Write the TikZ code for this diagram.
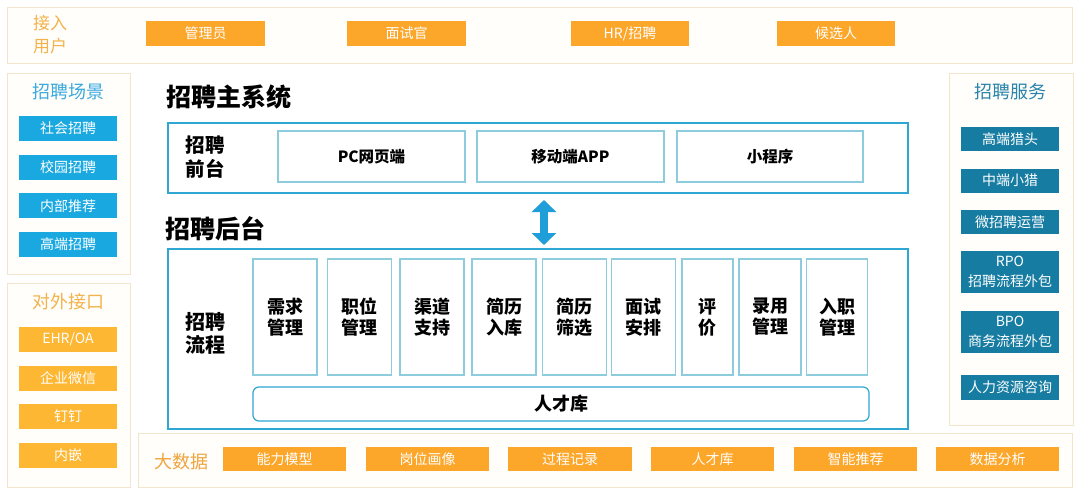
\documentclass[tikz,border=0pt]{standalone}
\usepackage{fontspec}
\setmainfont{Noto Sans CJK SC}
\usetikzlibrary{arrows.meta}
\definecolor{beigeb}{HTML}{F3E4CC}
\definecolor{beigef}{HTML}{FFFEFB}
\definecolor{orng}{HTML}{FCA62A}
\definecolor{yorng}{HTML}{FDB732}
\definecolor{otitle}{HTML}{F3B24B}
\definecolor{otitleb}{HTML}{EFA43C}
\definecolor{sky}{HTML}{19A8E0}
\definecolor{skyt}{HTML}{3BAADE}
\definecolor{tealb}{HTML}{167CA2}
\definecolor{tealt}{HTML}{2A84AA}
\definecolor{framec}{HTML}{2FA7D3}
\definecolor{innerc}{HTML}{8DCCDD}
\definecolor{arrowc}{HTML}{1E9FDA}
\tikzset{
  panel/.style={draw=beigeb, fill=beigef, line width=1.2pt, anchor=north west, inner sep=0},
  btn/.style={inner sep=0, text=white, font=\fontsize{14}{20}\selectfont, align=center, minimum height=25pt},
  obtn/.style={btn, fill=orng},
  ybtn/.style={btn, fill=yorng, minimum width=98pt},
  sbtn/.style={btn, fill=sky, minimum width=98pt},
  tbtn/.style={btn, fill=tealb, minimum width=98pt, minimum height=24pt},
  ptitle/.style={font=\fontsize{18}{21}\selectfont, align=center, inner sep=0},
  mtitle/.style={font=\bfseries\fontsize{25}{28}\selectfont, anchor=west, inner sep=0},
  frame/.style={draw=framec, line width=2pt, anchor=north west, inner sep=0},
  ibox/.style={draw=innerc, line width=1.2pt, inner sep=0, font=\bfseries\fontsize{15.5}{18}\selectfont},
  colbox/.style={draw=innerc, line width=1.2pt, inner sep=0, minimum height=116pt, align=center, font=\bfseries\fontsize{18}{21}\selectfont},
  side/.style={font=\bfseries\fontsize{19.5}{24}\selectfont, align=left, inner sep=0},
  dbl/.style={draw=arrowc, line width=8pt, {Triangle[width=24pt,length=12pt]}-{Triangle[width=24pt,length=12pt]}}
}
\begin{document}
\begin{tikzpicture}[x=1pt,y=-1pt]
\fill[white] (0,0) rectangle (1080,493);
\useasboundingbox (0,0) rectangle (1080,493);

% top: access users
\node[panel, minimum width=1065pt, minimum height=56pt] (top) at (7,7) {};
\node[ptitle, text=otitle, font=\fontsize{17}{23}\selectfont] (toptitle) at (50,35) {接入\\用户};
\node[obtn, minimum width=119pt] (u1) at (205.5,33.5) {管理员};
\node[obtn, minimum width=119pt] (u2) at (406.5,33.5) {面试官};
\node[obtn, minimum width=118pt] (u3) at (630,33.5) {HR/招聘};
\node[obtn, minimum width=118pt] (u4) at (836,33.5) {候选人};

% left: scenes
\node[panel, minimum width=123pt, minimum height=201pt] (scene) at (7,73) {};
\node[ptitle, text=skyt] (scenetitle) at (68,92) {招聘场景};
\node[sbtn] (s1) at (68,128.5) {社会招聘};
\node[sbtn] (s2) at (68,167.3) {校园招聘};
\node[sbtn] (s3) at (68,205.8) {内部推荐};
\node[sbtn] (s4) at (68,244.2) {高端招聘};

% left: interfaces
\node[panel, minimum width=123pt, minimum height=204pt] (intf) at (7,283) {};
\node[ptitle, text=otitle] (intftitle) at (68,302) {对外接口};
\node[ybtn] (i1) at (68,339.5) {EHR/OA};
\node[ybtn] (i2) at (68,378.2) {企业微信};
\node[ybtn] (i3) at (68,416.5) {钉钉};
\node[ybtn] (i4) at (68,455.5) {内嵌};

% right: services
\node[panel, minimum width=124pt, minimum height=352pt] (serv) at (948.5,73) {};
\node[ptitle, text=tealt] (servtitle) at (1010,92) {招聘服务};
\node[tbtn] (r1) at (1010,138.8) {高端猎头};
\node[tbtn] (r2) at (1010,180.5) {中端小猎};
\node[tbtn] (r3) at (1010,222) {微招聘运营};
\node[tbtn, minimum height=42pt, font=\fontsize{14}{20}\selectfont] (r4) at (1010,272) {RPO\\招聘流程外包};
\node[tbtn, minimum height=42pt, font=\fontsize{14}{20}\selectfont] (r5) at (1010,332.2) {BPO\\商务流程外包};
\node[tbtn, minimum height=25pt] (r6) at (1010,387.5) {人力资源咨询};

% bottom: big data
\node[panel, minimum width=934pt, minimum height=54pt] (bd) at (138,433) {};
\node[ptitle, text=otitleb] (bdtitle) at (181,462) {大数据};
\node[obtn, minimum width=123pt, minimum height=24pt] (b1) at (284.5,459) {能力模型};
\node[obtn, minimum width=123pt, minimum height=24pt] (b2) at (427.5,459) {岗位画像};
\node[obtn, minimum width=124pt, minimum height=24pt] (b3) at (570,459) {过程记录};
\node[obtn, minimum width=123pt, minimum height=24pt] (b4) at (712.5,459) {人才库};
\node[obtn, minimum width=123pt, minimum height=24pt] (b5) at (855.5,459) {智能推荐};
\node[obtn, minimum width=123pt, minimum height=24pt] (b6) at (997.5,459) {数据分析};

% main system
\node[mtitle] (maintitle) at (166,96.5) {招聘主系统};
\node[frame, minimum width=740pt, minimum height=70pt] (front) at (167,122) {};
\node[side] (frontlabel) at (205,157) {招聘\\前台};
\node[ibox, minimum width=187pt, minimum height=51pt] (f1) at (371.5,156.5) {PC网页端};
\node[ibox, minimum width=187pt, minimum height=51pt] (f2) at (570.5,156.5) {移动端APP};
\node[ibox, minimum width=186pt, minimum height=51pt] (f3) at (770,156.5) {小程序};

\coordinate (atop) at (544,200);
\coordinate (abot) at (544,245);
\draw[dbl] (atop) -- (abot);

\node[mtitle] (backtitle) at (165,228.5) {招聘后台};
\node[frame, minimum width=740pt, minimum height=180pt] (back) at (167,248) {};
\node[side, font=\bfseries\fontsize{20}{23}\selectfont] (backlabel) at (205,333.5) {招聘\\流程};
\node[colbox, minimum width=64pt] (c1) at (285,317) {需求\\管理};
\node[colbox, minimum width=64pt] (c2) at (359.3,317) {职位\\管理};
\node[colbox, minimum width=64pt] (c3) at (432,317) {渠道\\支持};
\node[colbox, minimum width=64pt] (c4) at (504,317) {简历\\入库};
\node[colbox, minimum width=64pt] (c5) at (574.3,317) {简历\\筛选};
\node[colbox, minimum width=64pt] (c6) at (643.8,317) {面试\\安排};
\node[colbox, minimum width=51pt] (c7) at (707.5,317) {评\\价};
\node[colbox, minimum width=62pt] (c8) at (770,317) {录用\\管理};
\node[colbox, minimum width=61pt] (c9) at (837.3,317) {入职\\管理};
\node[draw=framec, line width=1.2pt, rounded corners=6pt, inner sep=0, minimum width=616pt, minimum height=34pt, font=\bfseries\fontsize{18}{21}\selectfont] (talent) at (561,404) {人才库};
\end{tikzpicture}
\end{document}
